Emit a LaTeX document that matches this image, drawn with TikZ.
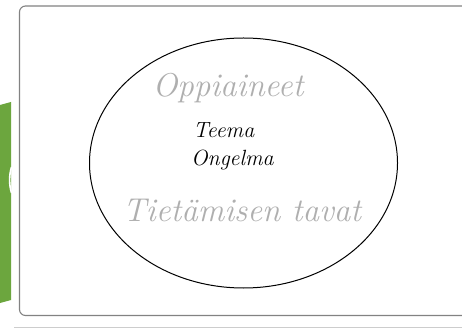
\documentclass[tikz,border=0pt]{standalone}
\usepackage{fontspec}
\usetikzlibrary{shapes.geometric}
\definecolor{leafgreen}{RGB}{108,166,62}
\definecolor{framegray}{RGB}{130,130,130}
\definecolor{lightline}{RGB}{205,205,205}
\definecolor{softtext}{RGB}{175,175,175}
\tikzset{
  bigword/.style={text=softtext, font=\itshape\fontsize{33}{36}\selectfont, inner sep=0pt},
  smallword/.style={text=black, font=\itshape\fontsize{22}{25}\selectfont, inner sep=0pt},
}
\begin{document}
\begin{tikzpicture}[x=1pt,y=-1pt]
\useasboundingbox (0,0) rectangle (462,328);
\fill[white] (0,0) rectangle (462,328);
% green side panel
\fill[leafgreen] (0,105) -- (11,102) -- (11,300) -- (0,303) -- cycle;
\draw[white, line width=1.6pt] (11.5,167) .. controls (9,175) and (9,185) .. (11.5,193);
% frame
\draw[framegray, line width=1.1pt, rounded corners=6pt] (470,6) -- (19.5,6) -- (19.5,315.5) -- (470,315.5);
\draw[lightline, line width=1pt] (14,327) -- (462,327);
% ellipse
\node[draw, ellipse, line width=1pt, minimum width=308, minimum height=250, inner sep=0pt] (ell) at (243.5,163) {};
\node[bigword] (opp) at (228,88) {Oppiaineet};
\node[smallword, anchor=west] (teema) at (193,130) {Teema};
\node[smallword, anchor=west] (ong) at (191,160) {Ongelma};
\node[bigword] (tiet) at (242,210) {Tietämisen tavat};
\end{tikzpicture}
\end{document}
